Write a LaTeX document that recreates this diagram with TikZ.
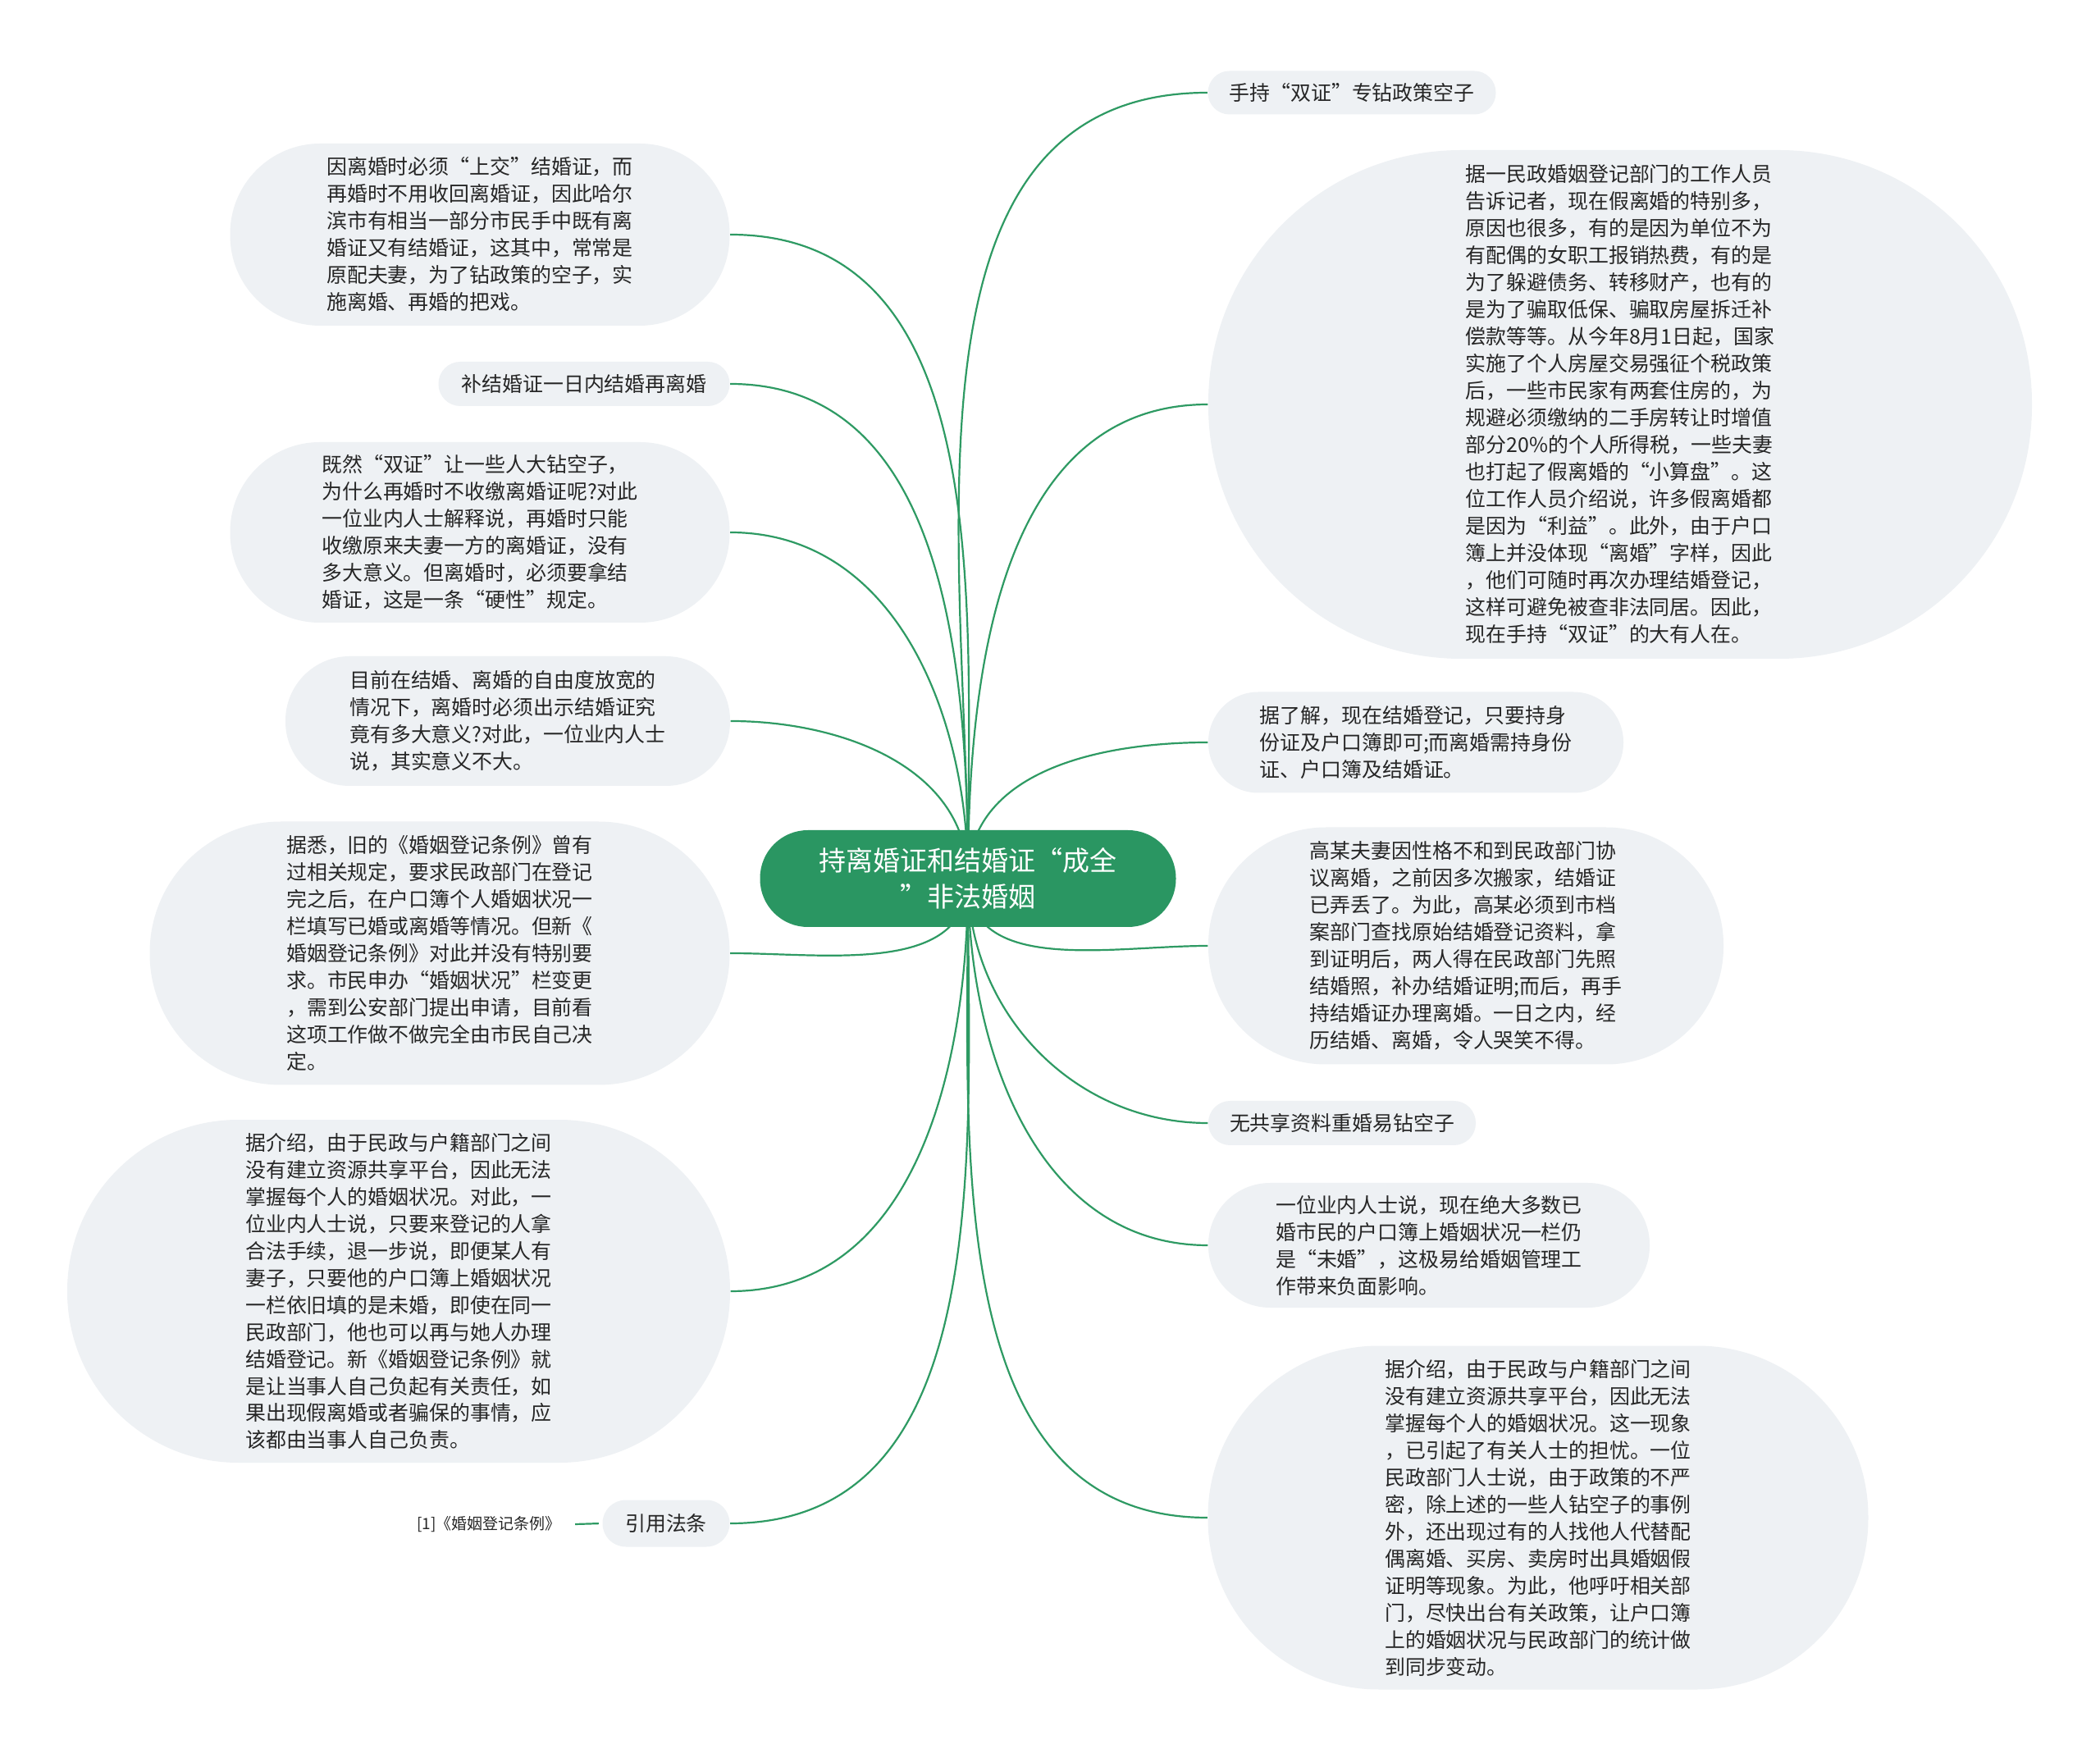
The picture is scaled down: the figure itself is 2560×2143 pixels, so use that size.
\documentclass[tikz,border=0pt]{standalone}
\usepackage{fontspec}
\newfontfamily\cjk{Noto Sans CJK SC}
\usetikzlibrary{backgrounds}
\definecolor{edgegreen}{HTML}{2E9A63}
\definecolor{rootgreen}{HTML}{2A9662}
\definecolor{bubble}{HTML}{EEF1F4}
\definecolor{ink}{HTML}{262626}
\begin{document}
\begin{tikzpicture}[x=0.3pt,y=-0.3pt,
  bub/.style={fill=bubble, text=ink, font=\cjk\fontsize{7.47}{9.9}\selectfont, align=left, inner sep=0pt},
  rootbox/.style={fill=rootgreen, text=white, font=\cjk\fontsize{9.9}{13.2}\selectfont, align=center, inner sep=0pt},
  conn/.style={draw=edgegreen, line width=0.66pt},
  reftext/.style={text=ink, font=\cjk\fontsize{5.7}{7}\selectfont, inner sep=5pt}
]
\useasboundingbox (0,0) rectangle (2560,2143);

% central node
\node[rootbox, minimum width=152.1pt, minimum height=35.4pt, rounded corners=17.5pt] (C) at (1180,1071) {持离婚证和结婚证“成全\\”非法婚姻};

% left side
\node[bub, minimum width=182.7pt, minimum height=66.6pt, rounded corners=33pt] (L1) at (585,286) {因离婚时必须“上交”结婚证，而\\再婚时不用收回离婚证，因此哈尔\\滨市有相当一部分市民手中既有离\\婚证又有结婚证，这其中，常常是\\原配夫妻，为了钻政策的空子，实\\施离婚、再婚的把戏。};
\node[bub, minimum width=106.5pt, minimum height=16.2pt, rounded corners=8pt] (L2) at (712,468) {补结婚证一日内结婚再离婚};
\node[bub, minimum width=182.7pt, minimum height=66pt, rounded corners=32.8pt] (L3) at (585,649) {既然“双证”让一些人大钻空子，\\为什么再婚时不收缴离婚证呢?对此\\一位业内人士解释说，再婚时只能\\收缴原来夫妻一方的离婚证，没有\\多大意义。但离婚时，必须要拿结\\婚证，这是一条“硬性”规定。};
\node[bub, minimum width=162.6pt, minimum height=47.4pt, rounded corners=23.5pt] (L4) at (619,879) {目前在结婚、离婚的自由度放宽的\\情况下，离婚时必须出示结婚证究\\竟有多大意义?对此，一位业内人士\\说，其实意义不大。};
\node[bub, minimum width=212.1pt, minimum height=96.3pt, rounded corners=48pt] (L5) at (536,1162) {据悉，旧的《婚姻登记条例》曾有\\过相关规定，要求民政部门在登记\\完之后，在户口簿个人婚姻状况一\\栏填写已婚或离婚等情况。但新《\\婚姻登记条例》对此并没有特别要\\求。市民申办“婚姻状况”栏变更\\，需到公安部门提出申请，目前看\\这项工作做不做完全由市民自己决\\定。};
\node[bub, minimum width=242.4pt, minimum height=125.4pt, rounded corners=62.5pt] (L6) at (486,1574) {据介绍，由于民政与户籍部门之间\\没有建立资源共享平台，因此无法\\掌握每个人的婚姻状况。对此，一\\位业内人士说，只要来登记的人拿\\合法手续，退一步说，即便某人有\\妻子，只要他的户口簿上婚姻状况\\一栏依旧填的是未婚，即使在同一\\民政部门，他也可以再与她人办理\\结婚登记。新《婚姻登记条例》就\\是让当事人自己负起有关责任，如\\果出现假离婚或者骗保的事情，应\\该都由当事人自己负责。};
\node[bub, minimum width=46.5pt, minimum height=17.1pt, rounded corners=8.5pt] (L7) at (812,1857) {引用法条};
\node[reftext] (L8) at (596,1858) {[1]《婚姻登记条例》};

% right side
\node[bub, minimum width=105.3pt, minimum height=15.9pt, rounded corners=7.9pt] (R1) at (1648,113) {手持“双证”专钻政策空子};
\node[bub, minimum width=301.2pt, minimum height=186pt, rounded corners=92.5pt] (R2) at (1975,493) {据一民政婚姻登记部门的工作人员\\告诉记者，现在假离婚的特别多，\\原因也很多，有的是因为单位不为\\有配偶的女职工报销热费，有的是\\为了躲避债务、转移财产，也有的\\是为了骗取低保、骗取房屋拆迁补\\偿款等等。从今年8月1日起，国家\\实施了个人房屋交易强征个税政策\\后，一些市民家有两套住房的，为\\规避必须缴纳的二手房转让时增值\\部分20\%的个人所得税，一些夫妻\\也打起了假离婚的“小算盘”。这\\位工作人员介绍说，许多假离婚都\\是因为“利益”。此外，由于户口\\簿上并没体现“离婚”字样，因此\\，他们可随时再次办理结婚登记，\\这样可避免被查非法同居。因此，\\现在手持“双证”的大有人在。};
\node[bub, minimum width=151.8pt, minimum height=36.9pt, rounded corners=18.3pt] (R3) at (1726,905) {据了解，现在结婚登记，只要持身\\份证及户口簿即可;而离婚需持身份\\证、户口簿及结婚证。};
\node[bub, minimum width=188.4pt, minimum height=86.7pt, rounded corners=43pt] (R4) at (1787,1153) {高某夫妻因性格不和到民政部门协\\议离婚，之前因多次搬家，结婚证\\已弄丢了。为此，高某必须到市档\\案部门查找原始结婚登记资料，拿\\到证明后，两人得在民政部门先照\\结婚照，补办结婚证明;而后，再手\\持结婚证办理离婚。一日之内，经\\历结婚、离婚，令人哭笑不得。};
\node[bub, minimum width=97.8pt, minimum height=16.2pt, rounded corners=8pt] (R5) at (1636,1369) {无共享资料重婚易钻空子};
\node[bub, minimum width=161.4pt, minimum height=45.6pt, rounded corners=22.6pt] (R6) at (1742,1518) {一位业内人士说，现在绝大多数已\\婚市民的户口簿上婚姻状况一栏仍\\是“未婚”，这极易给婚姻管理工\\作带来负面影响。};
\node[bub, minimum width=241.5pt, minimum height=125.7pt, rounded corners=62.5pt] (R7) at (1875,1850) {据介绍，由于民政与户籍部门之间\\没有建立资源共享平台，因此无法\\掌握每个人的婚姻状况。这一现象\\，已引起了有关人士的担忧。一位\\民政部门人士说，由于政策的不严\\密，除上述的一些人钻空子的事例\\外，还出现过有的人找他人代替配\\偶离婚、买房、卖房时出具婚姻假\\证明等现象。为此，他呼吁相关部\\门，尽快出台有关政策，让户口簿\\上的婚姻状况与民政部门的统计做\\到同步变动。};

\begin{scope}[on background layer]
\fill[white] (0,0) rectangle (2560,2143);
\draw[conn] (C.center) to[out=90,in=0] (L1.east);
\draw[conn] (C.center) to[out=90,in=0] (L2.east);
\draw[conn] (C.center) to[out=90,in=0] (L3.east);
\draw[conn] (C.center) to[out=90,in=0] (L4.east);
\draw[conn] (C.center) to[out=-90,in=0] (L5.east);
\draw[conn] (C.center) to[out=-90,in=0] (L6.east);
\draw[conn] (C.center) to[out=-90,in=0] (L7.east);
\draw[conn] (C.center) to[out=90,in=180] (R1.west);
\draw[conn] (C.center) to[out=90,in=180] (R2.west);
\draw[conn] (C.center) to[out=90,in=180] (R3.west);
\draw[conn] (C.center) to[out=-90,in=180] (R4.west);
\draw[conn] (C.center) to[out=-90,in=180] (R5.west);
\draw[conn] (C.center) to[out=-90,in=180] (R6.west);
\draw[conn] (C.center) to[out=-90,in=180] (R7.west);
\draw[conn, shorten >=1.2pt] (L8.east) -- (L7.west);
\end{scope}
\end{tikzpicture}
\end{document}
